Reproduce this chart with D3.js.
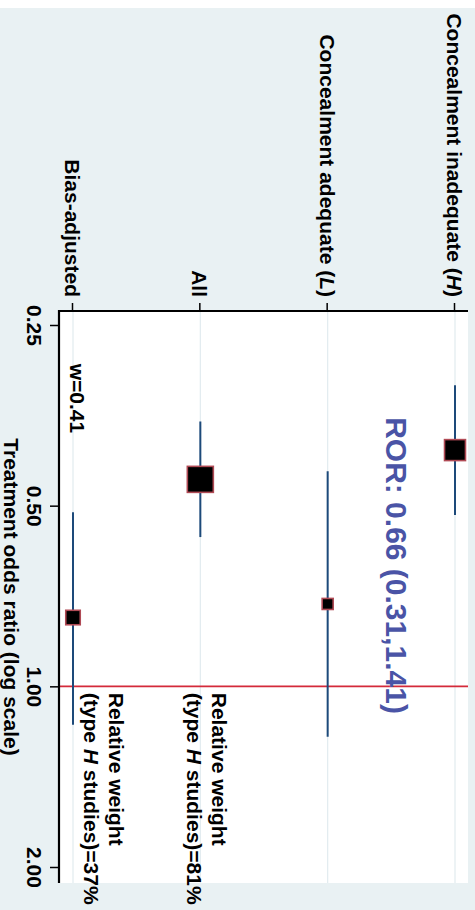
<!DOCTYPE html>
<html><head><meta charset="utf-8">
<script src="https://cdn.jsdelivr.net/npm/d3@7"></script>
<style>body{margin:0;background:#fff}svg{display:block}</style>
</head><body><svg id="c" width="475" height="910"></svg>
<script>
// ---- data ----
const categories = ["Bias-adjusted", "All", "Concealment adequate (L)", "Concealment inadequate (H)"];
const estimates = [0.768, 0.452, 0.729, 0.404];
const ciLower = [0.513, 0.362, 0.438, 0.315];
const ciUpper = [1.159, 0.564, 1.213, 0.518];
const markerWeights = [0.31, 1.0, 0.18, 0.65];
const xTicks = [0.25, 0.5, 1, 2];
const xTickLabels = ["0.25", "0.50", "1.00", "2.00"];
const rorText = "ROR: 0.66 (0.31,1.41)";
const wText = "w=0.41";
const weightNotes = [["Relative weight", "(type ", "H", " studies)=37%"], ["Relative weight", "(type ", "H", " studies)=81%"]];

// ---- drawing (chart drawn unrotated, then rotated 90deg clockwise) ----
const W = 910, H = 475;
const FONT = "'Liberation Sans', Arial, Helvetica, sans-serif";
const svg = d3.select("#c");
const g = svg.append("g").attr("transform", "translate(475,0) rotate(90)");

// background
g.append("rect").attr("x", 8).attr("y", 0).attr("width", W - 8).attr("height", H).attr("fill", "#e9f1f3");

const plot = {x0: 311, x1: 883, y0: 7, y1: 416};
g.append("rect").attr("x", plot.x0).attr("y", plot.y0)
  .attr("width", plot.x1 - plot.x0).attr("height", plot.y1 - plot.y0).attr("fill", "#ffffff");

const x = d3.scaleLog().domain([0.25, 2]).range([325, 867]);
const y = d3.scaleLinear().domain([1, 4]).range([402, 20]);
const rows = categories.map((c, i) => ({c, pos: i + 1, est: estimates[i], lo: ciLower[i], hi: ciUpper[i], w: markerWeights[i]}));
const size = d3.scaleSqrt().domain([0, 1]).range([0, 26]);

// gridlines
g.append("g").selectAll("line").data(rows).join("line")
  .attr("x1", plot.x0).attr("x2", plot.x1)
  .attr("y1", d => y(d.pos)).attr("y2", d => y(d.pos))
  .attr("stroke", "#e1ebef").attr("stroke-width", 1.2);

// reference line at OR = 1
g.append("line").attr("x1", x(1)).attr("x2", x(1)).attr("y1", plot.y0).attr("y2", plot.y1)
  .attr("stroke", "#d42a3a").attr("stroke-width", 1.6);

// CI lines
g.append("g").selectAll("line").data(rows).join("line")
  .attr("x1", d => x(d.lo)).attr("x2", d => x(d.hi))
  .attr("y1", d => y(d.pos)).attr("y2", d => y(d.pos))
  .attr("stroke", "#1d4a7a").attr("stroke-width", 2);

// squares
g.append("g").selectAll("rect").data(rows).join("rect")
  .attr("x", d => x(d.est) - size(d.w) / 2).attr("y", d => y(d.pos) - size(d.w) / 2)
  .attr("width", d => size(d.w)).attr("height", d => size(d.w))
  .attr("fill", "#000").attr("stroke", "#b04a55").attr("stroke-width", 1.6);

// category axis (original left)
const yAxis = d3.axisLeft(y).tickValues(rows.map(d => d.pos)).tickSize(8).tickPadding(6).tickFormat("");
const ya = g.append("g").attr("transform", `translate(${plot.x0},0)`).call(yAxis);
ya.select(".domain").remove();
ya.selectAll(".tick line").attr("stroke", "#000").attr("stroke-width", 1.5);
ya.selectAll(".tick").each(function(pos) {
  const label = categories[pos - 1];
  const m = label.match(/^(.*\()(\w)(\))$/);
  const t = d3.select(this).append("text").attr("x", -14).attr("dy", "0.35em")
    .attr("text-anchor", "end").attr("fill", "#000")
    .style("font-family", FONT).style("font-size", "21px").style("font-weight", "bold");
  if (m) {
    t.append("tspan").text(m[1]);
    t.append("tspan").style("font-style", "italic").text(m[2]);
    t.append("tspan").text(m[3]);
  } else t.text(label);
});

// value axis (original bottom)
const xAxis = d3.axisBottom(x).tickValues(xTicks).tickSize(9).tickPadding(8)
  .tickFormat((d, i) => xTickLabels[i]);
const xa = g.append("g").attr("transform", `translate(0,${plot.y1})`).call(xAxis);
xa.select(".domain").remove();
xa.selectAll(".tick line").attr("stroke", "#000").attr("stroke-width", 1.5);
xa.selectAll(".tick text").attr("fill", "#000")
  .style("font-family", FONT).style("font-size", "21px").style("font-weight", "bold");

// frame lines
g.append("line").attr("x1", plot.x0).attr("x2", plot.x0).attr("y1", plot.y0).attr("y2", plot.y1 + 1)
  .attr("stroke", "#000").attr("stroke-width", 2.2);
g.append("line").attr("x1", plot.x0 - 1).attr("x2", plot.x1).attr("y1", plot.y1).attr("y2", plot.y1)
  .attr("stroke", "#000").attr("stroke-width", 2.2);

// axis title
g.append("text").attr("x", (plot.x0 + plot.x1) / 2).attr("y", 471).attr("text-anchor", "middle")
  .style("font-family", FONT).style("font-size", "21px").style("font-weight", "bold")
  .text("Treatment odds ratio (log scale)");

// annotations
g.append("text").attr("x", x(0.356)).attr("y", y(3.54)).attr("dy", "0.35em")
  .attr("fill", "#4a54a6")
  .style("font-family", FONT).style("font-size", "30px").style("font-weight", "bold")
  .text(rorText);

g.append("text").attr("x", x(0.29)).attr("y", y(1.035)).attr("dy", "0.35em")
  .style("font-family", FONT).style("font-size", "21px").style("font-weight", "bold")
  .text(wText);

[[1.19, weightNotes[0]], [2.0, weightNotes[1]]].forEach(([pos, n]) => {
  const t = g.append("text").attr("x", x(1.025)).attr("y", y(pos))
    .style("font-family", FONT).style("font-size", "21px").style("font-weight", "bold");
  t.append("tspan").attr("x", x(1.025)).attr("dy", "-0.55em").text(n[0]);
  const t2 = t.append("tspan").attr("x", x(1.025)).attr("dy", "1.2em");
  t2.text(n[1]);
  t.append("tspan").style("font-style", "italic").text(n[2]);
  t.append("tspan").text(n[3]);
});
</script></body></html>
